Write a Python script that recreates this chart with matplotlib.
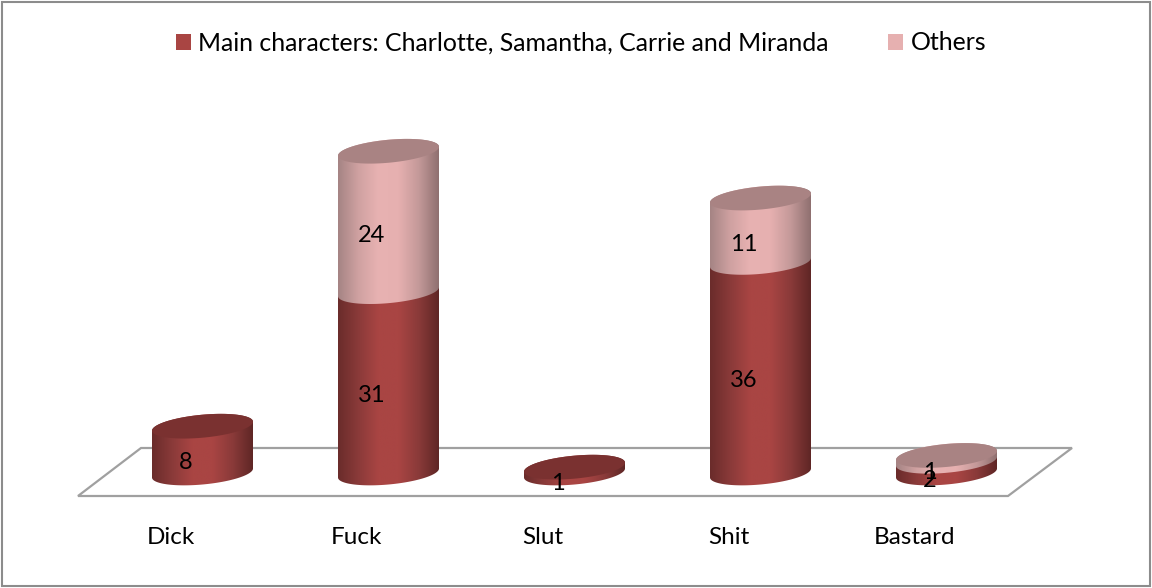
import matplotlib
matplotlib.use("Agg")
import matplotlib.pyplot as plt
import numpy as np
from matplotlib.colors import LinearSegmentedColormap
from matplotlib.patches import Patch, Polygon, Rectangle
from matplotlib.transforms import IdentityTransform

categories = ["Dick", "Fuck", "Slut", "Shit", "Bastard"]
main_chars = [8, 31, 1, 36, 2]
others = [0, 24, 0, 11, 1]
legend_labels = ["Main characters: Charlotte, Samantha, Carrie and Miranda", "Others"]

W, H = 1152, 588
plt.rcParams["font.family"] = ["Lato", "DejaVu Sans"]
fig = plt.figure(figsize=(W / 100, H / 100), dpi=100, facecolor="white")


def px(x, y):
    # pixel position from the top left, as in the reference
    return x, H - y


# chart frame and the floor, both in pixels
fig.add_artist(Rectangle(px(2, 586), 1148, 584, fill=False, ec="#8c8c8c", lw=1.5,
                         transform=IdentityTransform()))
floor = [px(78, 496), px(1008, 496), px(1072, 448), px(141, 448)]
fig.add_artist(Polygon(floor, closed=True, fill=False, ec="#a0a0a0", lw=1.6,
                       transform=IdentityTransform()))

# axes: one x unit = 186 px, one value = 5.85 px, value 0 at y=473
x_unit, y_unit = 186, 5.85
ax_left, ax_right = 109.5, 1039.5
ax_bottom, ax_top = 496, 125
ax = fig.add_axes([ax_left / W, 1 - ax_bottom / H, (ax_right - ax_left) / W, (ax_bottom - ax_top) / H])
ax.patch.set_alpha(0)
ax.set_zorder(3)  # cylinders stand in front of the floor

red_map = LinearSegmentedColormap.from_list("red", ["#6a2c2b", "#8a3a39", "#a94543", "#a94543", "#8a3a39", "#5f2625"])
pink_map = LinearSegmentedColormap.from_list("pink", ["#a58484", "#cfa1a1", "#e8b2b2", "#e6b0b0", "#c49999", "#8f7070"])
red_top = "#7a3130"
pink_top = "#a98383"

a, b, tilt = 50.5, 11.5, 4.5
shade = np.linspace(0, 1, 256).reshape(1, -1)


def rim(center, value, start, end):
    t = np.linspace(start, end, 80)
    xs = center + a * np.cos(t) / x_unit
    ys = value + (b * np.sin(t) + tilt * np.cos(t)) / y_unit
    return np.column_stack([xs, ys])


def segment(center, low, high, cmap, z):
    outline = np.vstack([rim(center, low, np.pi, 2 * np.pi), rim(center, high, 0, np.pi)])
    clip = Polygon(outline, closed=True, transform=ax.transData)
    im = ax.imshow(shade, cmap=cmap, aspect="auto", zorder=z,
                   extent=[center - a / x_unit, center + a / x_unit, low - 4, high + 4])
    im.set_clip_path(clip)


z = 2
for i, (m, o) in enumerate(zip(main_chars, others)):
    segment(i, 0, m, red_map, z)
    top_color = red_top
    if o > 0:
        segment(i, m, m + o, pink_map, z + 1)
        top_color = pink_top
    ax.add_patch(Polygon(rim(i, m + o, 0, 2 * np.pi), closed=True, fc=top_color, ec="none", zorder=z + 2))
    z += 3

# value labels
for i, (m, o) in enumerate(zip(main_chars, others)):
    ax.annotate(str(m), (i, m / 2), xytext=(-12.2, -9.5), textcoords="offset points",
                ha="center", va="center", fontsize=17, color="black", zorder=50)
    if o > 0:
        ax.annotate(str(o), (i, m + o / 2), xytext=(-12.2, -10), textcoords="offset points",
                    ha="center", va="center", fontsize=17, color="black", zorder=50)

ax.set_xlim(-0.5, 4.5)
ax.set_ylim((473 - ax_bottom) / y_unit, (473 - ax_top) / y_unit)
ax.set_xticks(np.arange(len(categories)) - 0.172)
ax.set_xticklabels(categories, fontsize=17.5, color="black")
ax.tick_params(axis="x", length=0, pad=22)
ax.set_yticks([])
for s in ax.spines.values():
    s.set_visible(False)

handles = [Patch(fc="#a94543", ec="none"), Patch(fc="#e6b0b0", ec="none")]
fig.legend(handles, legend_labels, ncol=2, frameon=False, fontsize=17.9,
           loc="center", bbox_to_anchor=(581 / W, 1 - 43 / H),
           handlelength=0.6, handleheight=0.6, handletextpad=0.3, columnspacing=2.4)

fig.savefig("out.png", dpi=100)
